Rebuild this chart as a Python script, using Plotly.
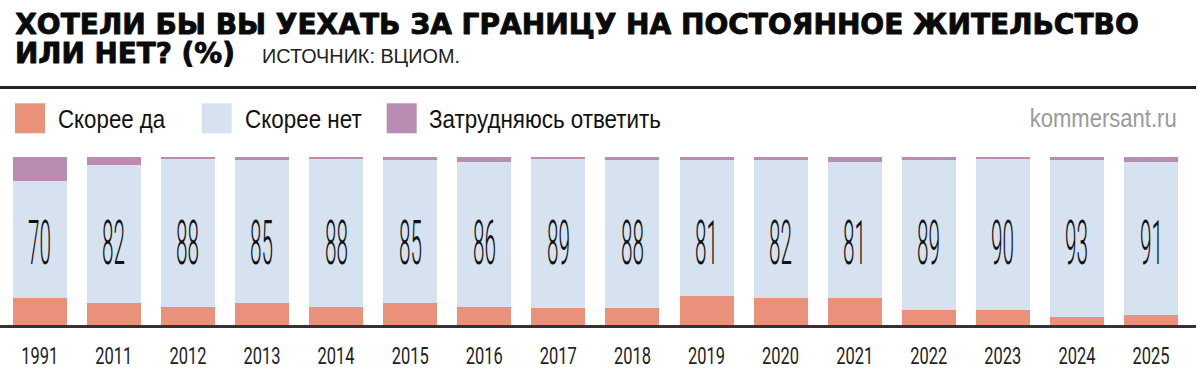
import plotly.graph_objects as go

years = ["1991", "2011", "2012", "2013", "2014", "2015", "2016", "2017",
         "2018", "2019", "2020", "2021", "2022", "2023", "2024", "2025"]
yes_vals = [16, 13, 11, 13, 11, 13, 11, 10, 10, 17, 16, 16, 9, 9, 5, 6]
no_vals = [70, 82, 88, 85, 88, 85, 86, 89, 88, 81, 82, 81, 89, 90, 93, 91]
hard_vals = [14, 5, 1, 2, 1, 2, 3, 1, 2, 2, 2, 3, 2, 1, 2, 3]

series_names = ["Скорее да", "Скорее нет", "Затрудняюсь ответить"]
colors = ["#EA917C", "#D7E2F0", "#B98DB1"]

title_line1 = "ХОТЕЛИ БЫ ВЫ УЕХАТЬ ЗА ГРАНИЦУ НА ПОСТОЯННОЕ ЖИТЕЛЬСТВО"
title_line2 = "ИЛИ НЕТ? (%)"
source_text = "ИСТОЧНИК: ВЦИОМ."
brand_text = "kommersant.ru"

W, H = 1198, 377
ML, MR, MT, MB = 0, 2, 157, 52
PW = W - ML - MR
PH = H - MT - MB


def px(x):
    return (x - ML) / PW


def py(y):
    return (H - MB - y) / PH


SANS = "Liberation Sans"
NUM = "Roboto"

fig = go.Figure()
for name, vals, col in zip(series_names, [yes_vals, no_vals, hard_vals], colors):
    fig.add_trace(go.Bar(
        x=years, y=vals, name=name, marker_color=col, width=0.729,
        marker_line_width=0, showlegend=False, hoverinfo="skip"))

annotations = []
# category index positions on the category x axis
for i, v in enumerate(no_vals):
    annotations.append(dict(
        x=i, y=49.4, xref="x", yref="y", text=str(v), showarrow=False,
        xanchor="center", yanchor="middle",
        font=dict(family=NUM, size=62, color="#111111", weight=300)))

annotations += [
    dict(x=px(13), y=py(25), xref="paper", yref="paper", text=title_line1,
         showarrow=False, xanchor="left", yanchor="middle",
         font=dict(family="DejaVu Sans", size=28, color="#0a0a0a", weight=900)),
    dict(x=px(13), y=py(53), xref="paper", yref="paper", text=title_line2,
         showarrow=False, xanchor="left", yanchor="middle",
         font=dict(family="DejaVu Sans", size=28, color="#0a0a0a", weight=900)),
    dict(x=px(260), y=py(55.5), xref="paper", yref="paper", text=source_text,
         showarrow=False, xanchor="left", yanchor="middle",
         font=dict(family=SANS, size=21, color="#222222")),
    dict(x=px(1179), y=py(118.2), xref="paper", yref="paper", text=brand_text,
         showarrow=False, xanchor="right", yanchor="middle",
         font=dict(family=SANS, size=26.5, color="#9a9a9a")),
]

legend_sq = [15, 201.7, 386.7]
legend_tx = [58.3, 245, 429.3]
shapes = [dict(type="line", xref="paper", yref="paper", x0=0, x1=px(1196),
               y0=py(87.5), y1=py(87.5), line=dict(color="#222222", width=3))]
for sx, tx, name, col in zip(legend_sq, legend_tx, series_names, colors):
    shapes.append(dict(type="rect", xref="paper", yref="paper",
                       x0=px(sx), x1=px(sx + 30), y0=py(133.3), y1=py(103.3),
                       fillcolor=col, line=dict(width=0)))
    annotations.append(dict(x=px(tx - 2), y=py(119.2), xref="paper", yref="paper",
                            text=name, showarrow=False, xanchor="left",
                            yanchor="middle",
                            font=dict(family=SANS, size=25.5, color="#111111")))

fig.update_layout(
    width=W, height=H, barmode="stack",
    margin=dict(l=ML, r=MR, t=MT, b=MB, pad=0),
    plot_bgcolor="white", paper_bgcolor="white",
    font=dict(family=SANS),
    annotations=annotations, shapes=shapes,
    xaxis=dict(type="category", range=[-0.536, 15.607], showline=True,
               linecolor="#333333", linewidth=2.5, ticks="outside", ticklen=9,
               tickcolor="rgba(0,0,0,0)", showgrid=False, zeroline=False,
               tickfont=dict(family=NUM, size=23, color="#222222"),
               fixedrange=True),
    yaxis=dict(range=[0, 100], visible=False, fixedrange=True),
)

post = """
document.body.style.margin = '0';
var gd = document.getElementById('{plot_id}');
function cond(t, s, mode) {
  var bb = t.getBBox();
  var ax = mode === 'l' ? bb.x : (mode === 'r' ? bb.x + bb.width : bb.x + bb.width / 2);
  var ex = t.getAttribute('transform') || '';
  t.setAttribute('transform', ex + ' translate(' + ax + ',0) scale(' + s + ',1) translate(' + (-ax) + ',0)');
}
var targets = {
  'Скорее да': [108, 'l'],
  'Скорее нет': [117, 'l'],
  'Затрудняюсь ответить': [232, 'l'],
  'kommersant.ru': [147, 'r'],
  'ИСТОЧНИК: ВЦИОМ.': [198, 'l'],
  'ХОТЕЛИ БЫ ВЫ УЕХАТЬ ЗА ГРАНИЦУ НА ПОСТОЯННОЕ ЖИТЕЛЬСТВО': [1124, 'l'],
  'ИЛИ НЕТ? (%)': [220, 'l']
};
var heavy = ['ХОТЕЛИ БЫ ВЫ УЕХАТЬ ЗА ГРАНИЦУ НА ПОСТОЯННОЕ ЖИТЕЛЬСТВО', 'ИЛИ НЕТ? (%)'];
var numScale = null;
gd.querySelectorAll('text.annotation-text').forEach(function (t) {
  var txt = t.textContent;
  if (/^[0-9]+$/.test(txt)) {
    if (numScale === null) { numScale = 23 / t.getBBox().width; }
    cond(t, numScale, 'c');
  } else if (targets[txt]) {
    cond(t, targets[txt][0] / t.getBBox().width, targets[txt][1]);
  }
  if (heavy.indexOf(txt) >= 0) {
    t.style.stroke = '#0a0a0a';
    t.style.strokeWidth = '0.9px';
    t.style.strokeLinejoin = 'round';
  }
});
var tickScale = null;
gd.querySelectorAll('g.xtick text').forEach(function (t) {
  if (tickScale === null) { tickScale = 37 / t.getBBox().width; }
  cond(t, tickScale, 'c');
});
"""

fig.write_html("out.html", post_script=post, config={"displayModeBar": False})
